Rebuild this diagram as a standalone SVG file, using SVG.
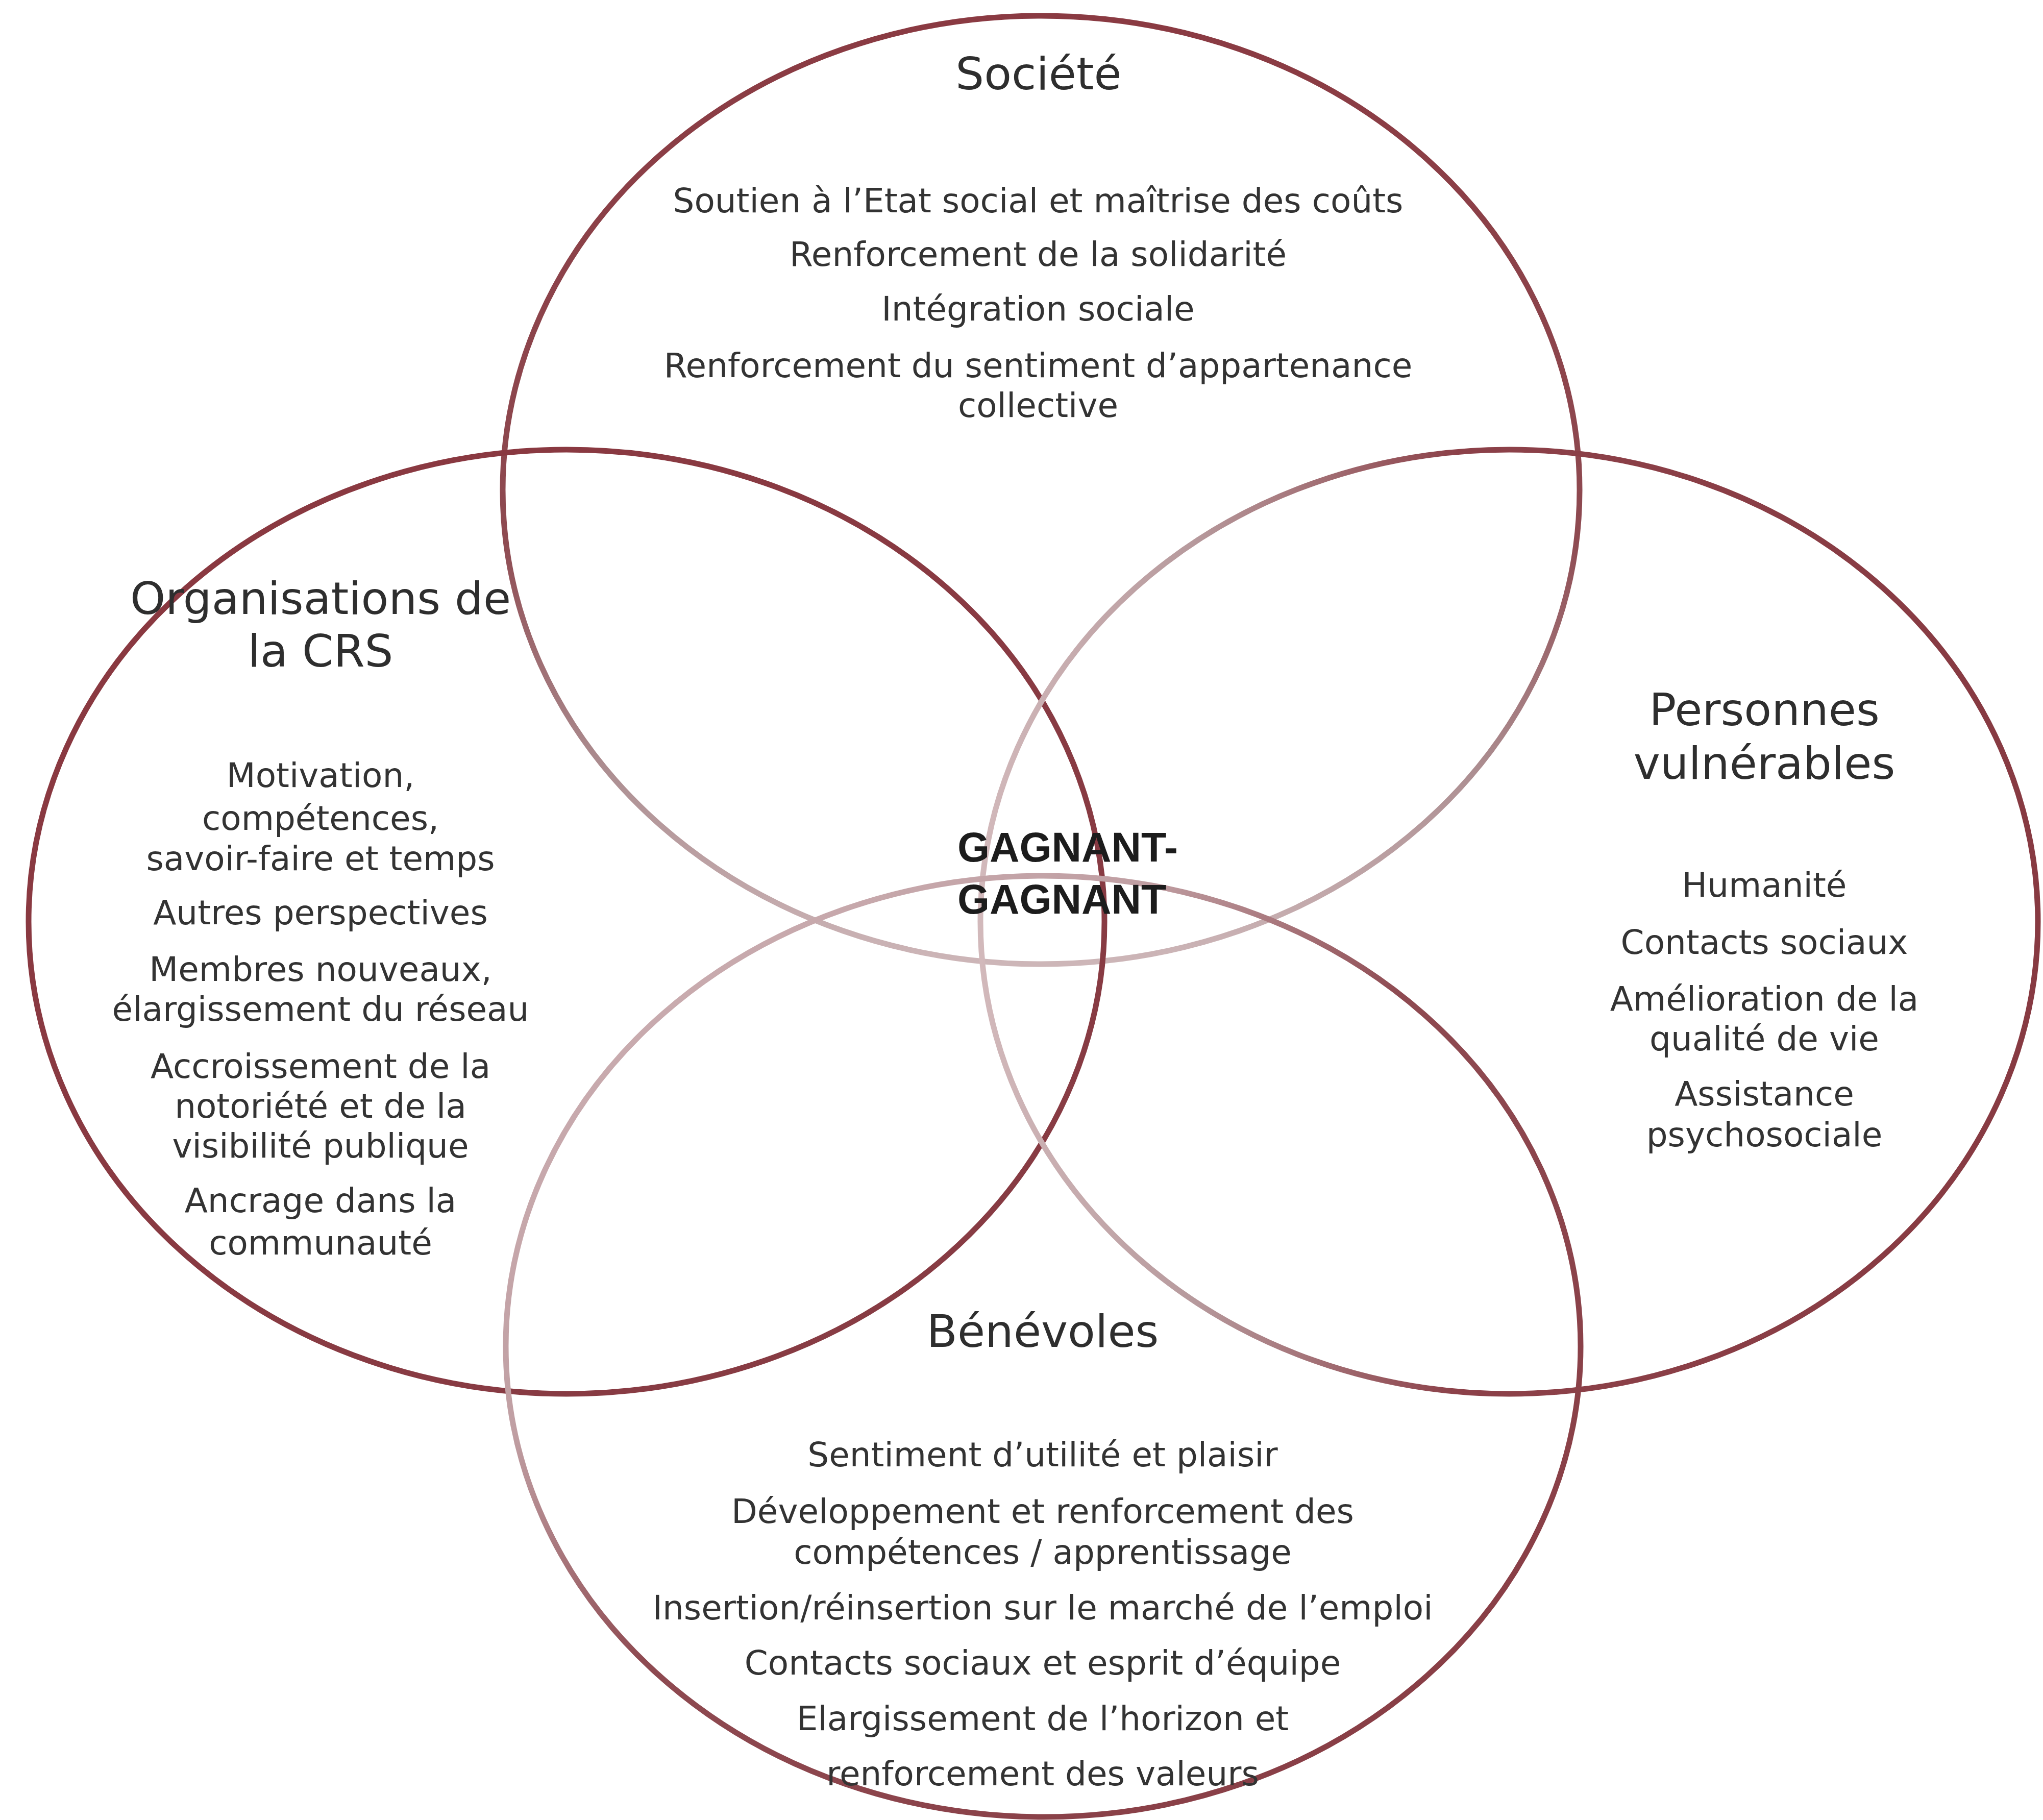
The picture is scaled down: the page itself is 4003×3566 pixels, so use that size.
<svg xmlns="http://www.w3.org/2000/svg" width="4003" height="3566" viewBox="0 0 4003 3566">
  <style>
    .ring { fill: none; stroke-width: 11; }
    .title { font-family: "DejaVu Sans", "Open Sans", sans-serif; font-size: 88px; fill: #2e2e2e; text-anchor: middle; }
    .item { font-family: "DejaVu Sans", "Open Sans", sans-serif; font-size: 66px; fill: #333333; text-anchor: middle; }
    .win { font-family: "Liberation Sans", Arial, sans-serif; font-size: 81px; font-weight: bold; fill: #1c1c1c; }
  </style>
  <defs>
    <linearGradient id="gTop" x1="0" y1="0" x2="0" y2="1">
      <stop offset="0" stop-color="#8a3a42"/>
      <stop offset="0.55" stop-color="#8e4a51"/>
      <stop offset="0.8" stop-color="#ad8f92"/>
      <stop offset="1" stop-color="#cdb6b8"/>
    </linearGradient>
    <linearGradient id="gLeft" x1="0" y1="0" x2="1" y2="1">
      <stop offset="0" stop-color="#8a3840"/>
      <stop offset="1" stop-color="#873c44"/>
    </linearGradient>
    <linearGradient id="gRight" x1="0" y1="0" x2="1" y2="0">
      <stop offset="0" stop-color="#d2b9bb"/>
      <stop offset="0.2" stop-color="#b79a9d"/>
      <stop offset="0.45" stop-color="#8c4149"/>
      <stop offset="1" stop-color="#873a42"/>
    </linearGradient>
    <linearGradient id="gBottom" x1="0" y1="0" x2="1" y2="1">
      <stop offset="0" stop-color="#d0b5b8"/>
      <stop offset="0.3" stop-color="#c09fa3"/>
      <stop offset="0.48" stop-color="#8e4a51"/>
      <stop offset="1" stop-color="#873a42"/>
    </linearGradient>
  </defs>
  <rect x="0" y="0" width="4003" height="3566" fill="#ffffff"/>

  <g id="societe">
    <ellipse class="ring" cx="2040" cy="960" rx="1055" ry="929" stroke="url(#gTop)"/>
    <text class="title" x="2035" y="175">Société</text>
    <text class="item" x="2034" y="416">Soutien à l’Etat social et maîtrise des coûts</text>
    <text class="item" x="2034" y="521">Renforcement de la solidarité</text>
    <text class="item" x="2034" y="628">Intégration sociale</text>
    <text class="item" x="2034" y="739">Renforcement du sentiment d’appartenance<tspan x="2034" dy="78">collective</tspan></text>
  </g>

  <g id="organisations">
    <ellipse class="ring" cx="1110" cy="1806" rx="1054" ry="925" stroke="url(#gLeft)"/>
    <text class="title" x="628" y="1203">Organisations de<tspan x="628" dy="103">la CRS</tspan></text>
    <text class="item" x="628" y="1542">Motivation,<tspan x="628" dy="84">compétences,</tspan><tspan x="628" dy="79">savoir-faire et temps</tspan></text>
    <text class="item" x="628" y="1811">Autres perspectives</text>
    <text class="item" x="628" y="1922">Membres nouveaux,<tspan x="628" dy="78">élargissement du réseau</tspan></text>
    <text class="item" x="628" y="2112">Accroissement de la<tspan x="628" dy="78">notoriété et de la</tspan><tspan x="628" dy="78">visibilité publique</tspan></text>
    <text class="item" x="628" y="2375">Ancrage dans la<tspan x="628" dy="83">communauté</tspan></text>
  </g>

  <g id="personnes">
    <ellipse class="ring" cx="2957" cy="1806" rx="1036" ry="925" stroke="url(#gRight)"/>
    <text class="title" x="3457" y="1421">Personnes<tspan x="3457" dy="105">vulnérables</tspan></text>
    <text class="item" x="3457" y="1757">Humanité</text>
    <text class="item" x="3457" y="1869">Contacts sociaux</text>
    <text class="item" x="3457" y="1980">Amélioration de la<tspan x="3457" dy="78">qualité de vie</tspan></text>
    <text class="item" x="3457" y="2166">Assistance<tspan x="3457" dy="80">psychosociale</tspan></text>
  </g>

  <g id="benevoles">
    <ellipse class="ring" cx="2044" cy="2638" rx="1053" ry="922" stroke="url(#gBottom)"/>
    <text class="title" x="2043" y="2639">Bénévoles</text>
    <text class="item" x="2043" y="2873">Sentiment d’utilité et plaisir</text>
    <text class="item" x="2043" y="2984">Développement et renforcement des<tspan x="2043" dy="80">compétences / apprentissage</tspan></text>
    <text class="item" x="2043" y="3173">Insertion/réinsertion sur le marché de l’emploi</text>
    <text class="item" x="2043" y="3281">Contacts sociaux et esprit d’équipe</text>
    <text class="item" x="2043" y="3390">Elargissement de l’horizon et<tspan x="2043" dy="108">renforcement des valeurs</tspan></text>
  </g>

  <g id="gagnant">
    <text class="win" x="1876" y="1688">GAGNANT-<tspan x="1876" dy="102">GAGNANT</tspan></text>
  </g>
</svg>
